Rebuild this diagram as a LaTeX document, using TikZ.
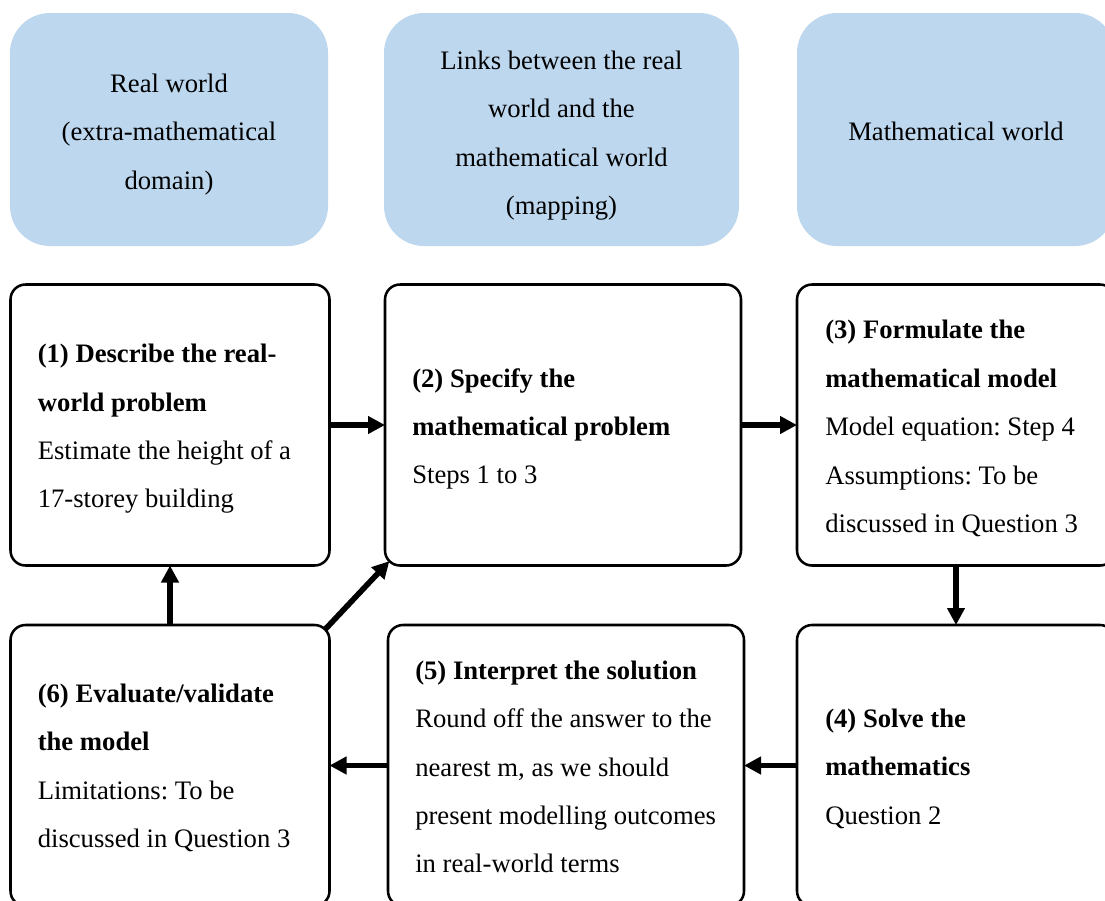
\documentclass[tikz,border=0pt]{standalone}
\usepackage{fontspec}
\setmainfont{Liberation Serif}
\frenchspacing
\usetikzlibrary{arrows.meta,calc}
\definecolor{hdrblue}{RGB}{189,215,238}
\begin{document}
\begin{tikzpicture}[x=0.75pt,y=-0.75pt,
  hdr/.style={fill=hdrblue, draw=none, rounded corners=30pt, minimum width=238.5pt,
    minimum height=174.75pt, inner sep=0pt, outer sep=0pt},
  hdrtext/.style={align=center, inner sep=0pt, font=\fontsize{20}{36.3}\selectfont},
  stepbox/.style={draw=black, line width=1.9pt, rounded corners=11.25pt,
    minimum width=239.25pt, minimum height=210.75pt, inner sep=0pt, outer sep=0pt},
  steptext/.style={anchor=west, align=left, inner sep=0pt,
    font=\fontsize{20}{36.3}\selectfont},
  flow/.style={line width=4.2pt, -{Triangle[length=12.75pt,width=12.75pt]}}
]
\useasboundingbox (0,0) rectangle (1105,900);

% header boxes
\node[hdr] (hA) at (169,129.5) {};
\node[hdr, minimum width=266.25pt] (hB) at (561.5,129.5) {};
\node[hdr] (hC) at (956,129.5) {};
\node[hdrtext] (hAt) at ($(hA.center)+(0,5)$) {Real world\\(extra-mathematical\\domain)};
\node[hdrtext] (hBt) at ($(hB.center)+(0,6)$) {Links between the real\\world and the\\mathematical world\\(mapping)};
\node[hdrtext] (hCt) at ($(hC.center)+(0,2)$) {Mathematical world};

% step boxes
\node[stepbox] (b1) at (170,425) {};
\node[stepbox, minimum width=267pt] (b2) at (563,425) {};
\node[stepbox, minimum width=238.5pt] (b3) at (956,425) {};
\node[stepbox, minimum width=238.5pt] (b4) at (956,765.5) {};
\node[stepbox, minimum width=267pt] (b5) at (566,765.5) {};
\node[stepbox] (b6) at (170,765.5) {};

% texts
\node[steptext] (t1) at ($(b1.west)+(27,4)$) {\textbf{(1) Describe the real-}\\\textbf{world problem}\\Estimate the height of a\\17-storey building};
\node[steptext] (t2) at ($(b2.west)+(27,4)$) {\textbf{(2) Specify the}\\\textbf{mathematical problem}\\Steps 1 to 3};
\node[steptext] (t3) at ($(b3.west)+(28,3.5)$) {\textbf{(3) Formulate the}\\\textbf{mathematical model}\\Model equation: Step 4\\Assumptions: To be\\discussed in Question 3};
\node[steptext] (t4) at ($(b4.west)+(28,3)$) {\textbf{(4) Solve the}\\\textbf{mathematics}\\Question 2};
\node[steptext] (t5) at ($(b5.west)+(27,1.5)$) {\textbf{(5) Interpret the solution}\\Round off the answer to the\\nearest m, as we should\\present modelling outcomes\\in real-world terms};
\node[steptext] (t6) at ($(b6.west)+(27,2.5)$) {\textbf{(6) Evaluate/validate}\\\textbf{the model}\\Limitations: To be\\discussed in Question 3};

% connectors
\draw[flow] (b1.east) -- (b2.west);
\draw[flow] (b2.east) -- (b3.west);
\draw[flow] (b3.south) -- (b4.north);
\draw[flow] (b4.west) -- (b5.east);
\draw[flow] (b5.west) -- (b6.east);
\draw[flow] (b6.north) -- (b1.south);
\coordinate (d6) at ($(b6.north east)+(-4.4,4.4)$);
\coordinate (d2) at ($(b2.south west)+(4.4,-4.4)$);
\draw[flow] (d6) -- (d2);
\end{tikzpicture}
\end{document}
